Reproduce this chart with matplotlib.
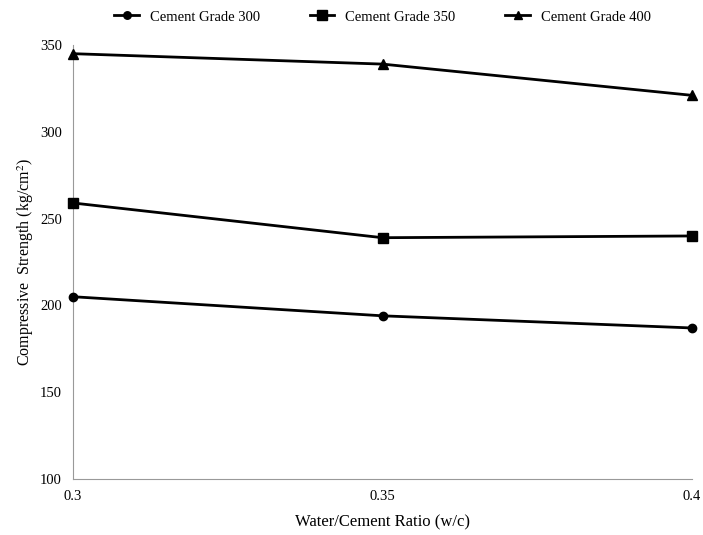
import numpy as np
import matplotlib
matplotlib.use("Agg")
import matplotlib.pyplot as plt

plt.rcParams["font.family"] = ["Liberation Serif", "DejaVu Serif"]
plt.rcParams["mathtext.fontset"] = "stix"

# Data
wc_ratio = ["0.3", "0.35", "0.4"]
grade_300 = [205, 194, 187]
grade_350 = [259, 239, 240]
grade_400 = [345, 339, 321]

fig = plt.figure(figsize=(7.03, 5.35), dpi=100)
ax = fig.add_axes([73 / 703, 1 - 479 / 535, (692 - 73) / 703, (479 - 45) / 535])

x = np.arange(len(wc_ratio))
ax.plot(x, grade_300, "-o", color="black", lw=2, ms=6, label="Cement Grade 300",
        clip_on=False, zorder=3)
ax.plot(x, grade_350, "-s", color="black", lw=2, ms=7.5, label="Cement Grade 350",
        clip_on=False, zorder=3)
ax.plot(x, grade_400, "-^", color="black", lw=2, ms=7, label="Cement Grade 400",
        clip_on=False, zorder=3)

ax.set_xlim(0, len(wc_ratio) - 1)
ax.set_ylim(100, 350)
ax.set_xticks(x)
ax.set_xticklabels(wc_ratio)
ax.set_yticks(np.arange(100, 351, 50))
ax.tick_params(length=0, labelsize=10.5, pad=8)
ax.tick_params(axis="x", pad=8)

for side in ["top", "right"]:
    ax.spines[side].set_visible(False)
for side in ["left", "bottom"]:
    ax.spines[side].set_color("#999999")
    ax.spines[side].set_linewidth(0.8)

ax.set_xlabel("Water/Cement Ratio (w/c)", fontsize=12, labelpad=8)
ax.set_ylabel("Compressive  Strength (kg/cm$^2$)", fontsize=11.5, labelpad=3)

ax.legend(loc="center", bbox_to_anchor=(0.5, 1 + 28 / 434), ncol=3, frameon=False,
          fontsize=10.5, handlelength=1.7, handletextpad=0.75, columnspacing=3.4,
          markerscale=0.9)

fig.savefig("out.png", dpi=100)
